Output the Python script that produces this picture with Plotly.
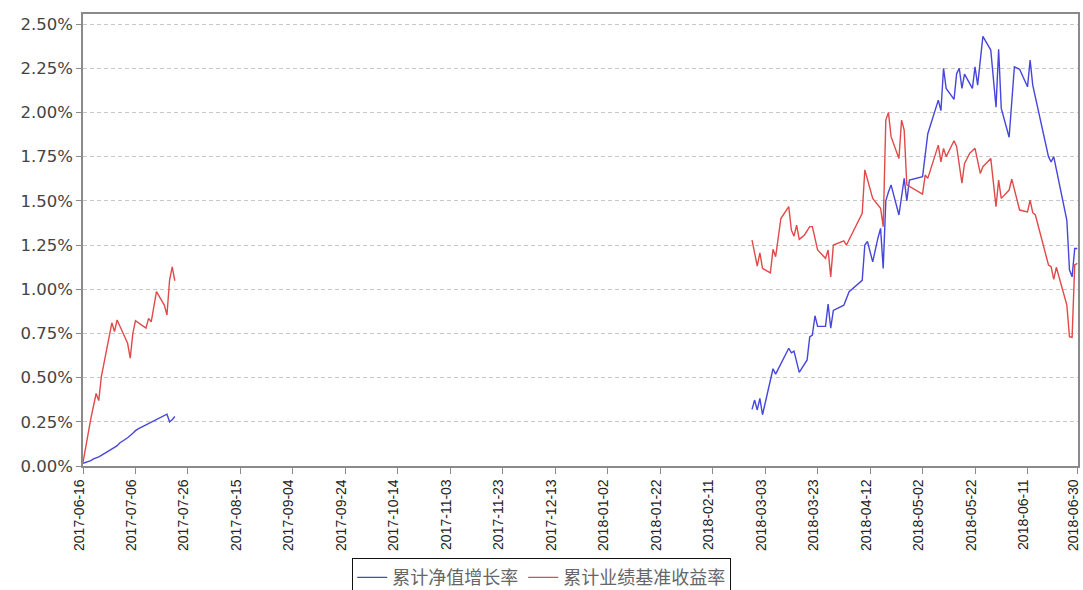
import plotly.graph_objects as go

# ---------------- data ----------------
series_names = ["累计净值增长率", "累计业绩基准收益率"]

nav_dates_2017 = ["2017-06-16", "2017-06-19", "2017-06-20", "2017-06-21", "2017-06-22", "2017-06-23",
                  "2017-06-26", "2017-06-27", "2017-06-28", "2017-06-29", "2017-06-30",
                  "2017-07-03", "2017-07-04", "2017-07-05", "2017-07-06", "2017-07-07",
                  "2017-07-10", "2017-07-11", "2017-07-12", "2017-07-13", "2017-07-14",
                  "2017-07-17", "2017-07-18", "2017-07-19", "2017-07-20", "2017-07-21"]
nav_values_2017 = [0.015, 0.03, 0.04, 0.045, 0.052, 0.06,
                   0.085, 0.095, 0.105, 0.115, 0.13,
                   0.16, 0.17, 0.185, 0.20, 0.21,
                   0.232, 0.24, 0.248, 0.256, 0.265,
                   0.288, 0.293, 0.25, 0.262, 0.28]

bench_dates_2017 = ["2017-06-16", "2017-06-19", "2017-06-21", "2017-06-22", "2017-06-23", "2017-06-27",
                    "2017-06-28", "2017-06-29", "2017-07-03", "2017-07-04", "2017-07-05", "2017-07-06",
                    "2017-07-10", "2017-07-11", "2017-07-12", "2017-07-14", "2017-07-17", "2017-07-18",
                    "2017-07-19", "2017-07-20", "2017-07-21"]
bench_values_2017 = [0.02, 0.27, 0.41, 0.37, 0.505, 0.81,
                     0.76, 0.826, 0.694, 0.61, 0.75, 0.822,
                     0.78, 0.835, 0.816, 0.986, 0.91, 0.854,
                     1.052, 1.127, 1.048]

nav_dates_2018 = ["2018-02-26", "2018-02-27", "2018-02-28", "2018-03-01", "2018-03-02", "2018-03-06",
                  "2018-03-07", "2018-03-12", "2018-03-13", "2018-03-14", "2018-03-16", "2018-03-19",
                  "2018-03-20", "2018-03-21", "2018-03-22", "2018-03-23", "2018-03-26", "2018-03-27",
                  "2018-03-28", "2018-03-29", "2018-04-02", "2018-04-04", "2018-04-09", "2018-04-10",
                  "2018-04-11", "2018-04-13", "2018-04-15", "2018-04-16", "2018-04-17", "2018-04-18",
                  "2018-04-19", "2018-04-20", "2018-04-23", "2018-04-25", "2018-04-26", "2018-04-27",
                  "2018-05-02", "2018-05-04", "2018-05-08", "2018-05-09", "2018-05-10", "2018-05-11",
                  "2018-05-14", "2018-05-15", "2018-05-16", "2018-05-17", "2018-05-18", "2018-05-21",
                  "2018-05-22", "2018-05-23", "2018-05-25", "2018-05-28", "2018-05-30", "2018-05-31",
                  "2018-06-01", "2018-06-04", "2018-06-06", "2018-06-08", "2018-06-11", "2018-06-12",
                  "2018-06-13", "2018-06-19", "2018-06-20", "2018-06-21", "2018-06-26", "2018-06-27",
                  "2018-06-28", "2018-06-29", "2018-06-30"]
nav_values_2018 = [0.32, 0.373, 0.317, 0.383, 0.29, 0.55,
                   0.52, 0.666, 0.64, 0.65, 0.53, 0.60,
                   0.73, 0.74, 0.85, 0.79, 0.79, 0.916,
                   0.78, 0.88, 0.91, 0.986, 1.05, 1.25,
                   1.27, 1.155, 1.29, 1.344, 1.118, 1.50,
                   1.55, 1.59, 1.42, 1.627, 1.50, 1.618,
                   1.636, 1.88, 2.07, 2.01, 2.25, 2.136,
                   2.074, 2.22, 2.25, 2.136, 2.217, 2.136,
                   2.258, 2.155, 2.43, 2.353, 2.03, 2.357,
                   2.023, 1.86, 2.258, 2.244, 2.145, 2.296,
                   2.155, 1.75, 1.72, 1.75, 1.39, 1.11,
                   1.07, 1.23, 1.23]

bench_dates_2018 = ["2018-02-26", "2018-02-28", "2018-03-01", "2018-03-02", "2018-03-05", "2018-03-06",
                    "2018-03-07", "2018-03-09", "2018-03-12", "2018-03-13", "2018-03-14", "2018-03-15",
                    "2018-03-16", "2018-03-18", "2018-03-20", "2018-03-21", "2018-03-23", "2018-03-26",
                    "2018-03-27", "2018-03-28", "2018-03-29", "2018-04-02", "2018-04-03", "2018-04-09",
                    "2018-04-10", "2018-04-12", "2018-04-13", "2018-04-16", "2018-04-17", "2018-04-18",
                    "2018-04-19", "2018-04-20", "2018-04-23", "2018-04-24", "2018-04-25", "2018-04-26",
                    "2018-05-02", "2018-05-03", "2018-05-04", "2018-05-08", "2018-05-09", "2018-05-10",
                    "2018-05-11", "2018-05-14", "2018-05-15", "2018-05-17", "2018-05-18", "2018-05-20",
                    "2018-05-22", "2018-05-24", "2018-05-25", "2018-05-28", "2018-05-30", "2018-05-31",
                    "2018-06-01", "2018-06-04", "2018-06-05", "2018-06-08", "2018-06-11", "2018-06-12",
                    "2018-06-13", "2018-06-14", "2018-06-19", "2018-06-20", "2018-06-21", "2018-06-22",
                    "2018-06-26", "2018-06-27", "2018-06-28", "2018-06-29", "2018-06-30"]
bench_values_2018 = [1.278, 1.131, 1.206, 1.118, 1.093, 1.226,
                     1.184, 1.40, 1.467, 1.335, 1.30, 1.363,
                     1.282, 1.307, 1.354, 1.354, 1.222, 1.175,
                     1.222, 1.07, 1.25, 1.273, 1.25, 1.43,
                     1.675, 1.56, 1.514, 1.458, 1.354, 1.957,
                     2.0, 1.863, 1.74, 1.957, 1.90, 1.59,
                     1.538, 1.646, 1.627, 1.815, 1.72, 1.797,
                     1.75, 1.84, 1.806, 1.60, 1.712, 1.769,
                     1.797, 1.655, 1.693, 1.74, 1.467, 1.618,
                     1.514, 1.561, 1.623, 1.448, 1.438, 1.504,
                     1.433, 1.42, 1.137, 1.127, 1.056, 1.124,
                     0.91, 0.731, 0.728, 1.137, 1.146]

x_tick_labels = ["2017-06-16", "2017-07-06", "2017-07-26", "2017-08-15", "2017-09-04", "2017-09-24",
                 "2017-10-14", "2017-11-03", "2017-11-23", "2017-12-13", "2018-01-02", "2018-01-22",
                 "2018-02-11", "2018-03-03", "2018-03-23", "2018-04-12", "2018-05-02", "2018-05-22",
                 "2018-06-11", "2018-06-30"]
x_range = ["2017-06-16", "2018-06-30 06:00"]
y_tick_values = [0.0, 0.25, 0.5, 0.75, 1.0, 1.25, 1.5, 1.75, 2.0, 2.25, 2.5]
y_tick_text = ["%.2f%%" % v for v in y_tick_values]

# ---------------- styles ----------------
BLUE = "#4646dc"
RED = "#e04a4a"
FONT = "Liberation Sans, Arial, sans-serif"
CJK = "Noto Sans CJK SC, sans-serif"

fig = go.Figure()
segments = [
    (nav_dates_2017, nav_values_2017, series_names[0], BLUE, True),
    (nav_dates_2018, nav_values_2018, series_names[0], BLUE, False),
    (bench_dates_2017, bench_values_2017, series_names[1], RED, True),
    (bench_dates_2018, bench_values_2018, series_names[1], RED, False),
]
for xs, ys, name, color, show in segments:
    fig.add_trace(go.Scatter(
        x=xs, y=ys, mode="lines", name=name, legendgroup=name, showlegend=show,
        line=dict(color=color, width=1.4),
    ))

fig.update_layout(
    width=1083, height=590,
    margin=dict(l=83, r=5, t=14, b=124, autoexpand=False),
    paper_bgcolor="white", plot_bgcolor="white",
    font=dict(family=FONT, color="#444"),
    showlegend=True,
    legend=dict(
        orientation="h", x=0.461, xanchor="center", y=-0.204, yanchor="top",
        bordercolor="#111", borderwidth=1, bgcolor="white",
        font=dict(family=CJK, size=18, color="#666"),
        itemwidth=30, tracegroupgap=0,
    ),
)
fig.update_xaxes(
    type="date", range=x_range,
    tickmode="array", tickvals=x_tick_labels, ticktext=x_tick_labels,
    tickangle=-90, tickfont=dict(family=FONT, size=14, color="#222"),
    ticklabeloverflow="allow", ticklabelshift=-4,
    showgrid=False, zeroline=False, automargin=False,
    showline=True, linecolor="#8a8a8a", linewidth=1.5, mirror=True,
    ticks="outside", ticklen=6, tickcolor="#8a8a8a", tickwidth=1,
)
fig.update_yaxes(
    range=[0, 2.557], tickmode="array", tickvals=y_tick_values, ticktext=y_tick_text,
    tickfont=dict(family="DejaVu Sans, sans-serif", size=16.5, color="#444"),
    showgrid=True, gridcolor="#c8c8c8", gridwidth=1, griddash="4px,3px",
    zeroline=False, automargin=False,
    showline=True, linecolor="#8a8a8a", linewidth=1.5, mirror=True,
    ticks="outside", ticklen=5, tickcolor="#8a8a8a", tickwidth=1,
)

fig.write_html("out.html", config={"displayModeBar": False},
               post_script="document.body.style.margin='0';")
